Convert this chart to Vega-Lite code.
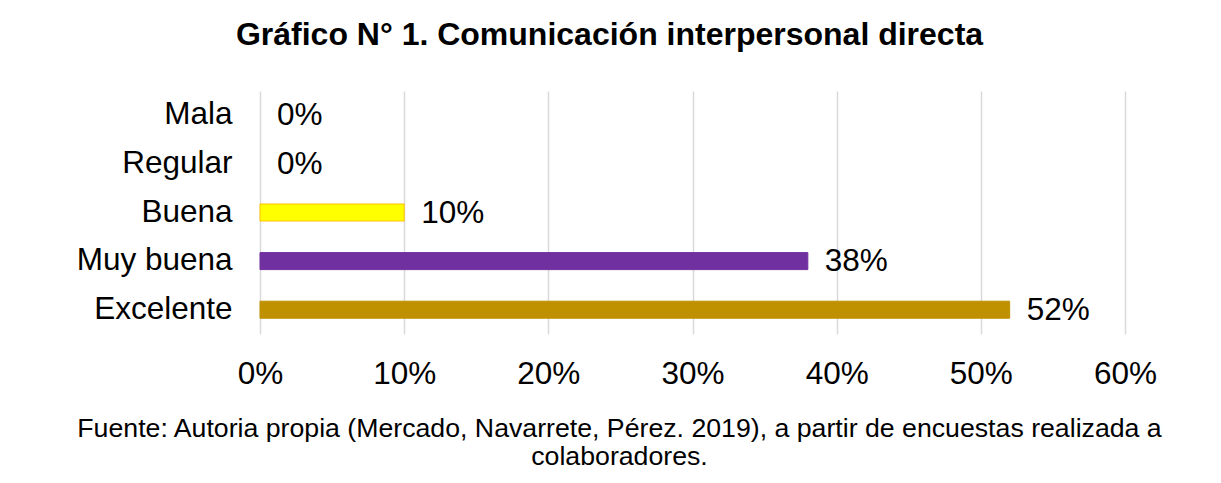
{
  "$schema": "https://vega.github.io/schema/vega-lite/v6.json",
  "autosize": "none",
  "width": 865,
  "height": 243,
  "padding": {"left": 260, "top": 91, "right": 96, "bottom": 149},
  "background": "white",
  "config": {"view": {"stroke": null}, "font": "Liberation Sans"},
  "title": {
    "text": "Gráfico N° 1. Comunicación interpersonal directa",
    "font": "Liberation Sans",
    "fontSize": 32,
    "fontWeight": "bold",
    "color": "#000000",
    "anchor": "middle",
    "dx": -83,
    "offset": 14,
    "baseline": "alphabetic"
  },
  "data": {
    "values": [
      {"categoria": "Mala", "valor": 0},
      {"categoria": "Regular\u00a0", "valor": 0},
      {"categoria": "Buena", "valor": 0.10},
      {"categoria": "Muy buena", "valor": 0.38},
      {"categoria": "Excelente", "valor": 0.52}
    ]
  },
  "encoding": {
    "y": {
      "field": "categoria",
      "type": "nominal",
      "sort": ["Mala", "Regular\u00a0", "Buena", "Muy buena", "Excelente"],
      "scale": {"paddingInner": 0.65, "paddingOuter": 0.325},
      "axis": {
        "title": null,
        "domain": false,
        "ticks": false,
        "labelFontSize": 31.5,
        "labelColor": "#000000",
        "labelPadding": 28,
        "labelFont": "Liberation Sans"
      }
    },
    "x": {
      "field": "valor",
      "type": "quantitative",
      "scale": {"domain": [0, 0.6], "nice": false},
      "axis": {
        "values": [0, 0.1, 0.2, 0.3, 0.4, 0.5, 0.6],
        "format": ".0%",
        "grid": true,
        "gridColor": "#d9d9d9",
        "gridWidth": 1.5,
        "domain": false,
        "ticks": false,
        "labelFontSize": 31.5,
        "labelColor": "#000000",
        "labelPadding": 24,
        "labelFont": "Liberation Sans",
        "labelFlush": false,
        "title": ["Fuente: Autoria propia (Mercado, Navarrete, Pérez. 2019), a partir de encuestas realizada a", "colaboradores."],
        "titleFont": "Liberation Sans",
        "titleFontSize": 26.7,
        "titleFontWeight": "normal",
        "titleColor": "#000000",
        "titleX": 359,
        "titleY": 102,
        "titleAlign": "center",
        "titleBaseline": "alphabetic",
        "titleLineHeight": 28
      }
    }
  },
  "layer": [
    {
      "transform": [{"filter": "datum.valor > 0"}],
      "mark": {"type": "bar", "strokeWidth": 1},
      "encoding": {
        "color": {
          "field": "categoria",
          "type": "nominal",
          "scale": {"domain": ["Buena", "Muy buena", "Excelente"], "range": ["#ffff00", "#7030a0", "#bf9000"]},
          "legend": null
        },
        "stroke": {
          "field": "categoria",
          "type": "nominal",
          "scale": {"domain": ["Buena", "Muy buena", "Excelente"], "range": ["#ffc000", "#7030a0", "#bf9000"]},
          "legend": null
        }
      }
    },
    {
      "mark": {"type": "text", "align": "left", "baseline": "middle", "dx": 17, "dy": 1, "fontSize": 31.5, "color": "#000000", "font": "Liberation Sans"},
      "encoding": {
        "text": {"field": "valor", "type": "quantitative", "format": ".0%"}
      }
    }
  ]
}
